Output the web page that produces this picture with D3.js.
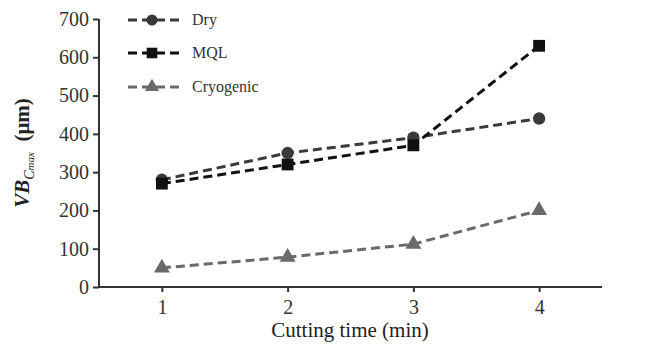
<!DOCTYPE html>
<html lang="en">
<head>
<meta charset="utf-8">
<script src="https://d3js.org/d3.v7.min.js"></script>
<style>
  body { margin: 0; background: #fff; }
</style>
</head>
<body>
<div id="chart"></div>
<script>
// data
const times = [1, 2, 3, 4];
const dry = [280, 350, 390, 440];
const mql = [270, 320, 370, 630];
const cryo = [50, 78, 112, 200];
const yTicks = [0, 100, 200, 300, 400, 500, 600, 700];
const seriesNames = ["Dry", "MQL", "Cryogenic"];

const serif = "Liberation Serif";
const W = 647, H = 349;
const svg = d3.select("#chart").append("svg")
  .attr("width", W).attr("height", H)
  .attr("font-family", serif);

const x = d3.scaleLinear().domain([0.5, 4.5]).range([99, 602]);
const y = d3.scaleLinear().domain([0, 700]).range([287, 19]);

// axes
const yAxis = svg.append("g")
  .attr("transform", "translate(99,0)")
  .call(d3.axisLeft(y).tickValues(yTicks).tickSize(6).tickPadding(4));
const xAxis = svg.append("g")
  .attr("transform", "translate(0,287)")
  .call(d3.axisBottom(x).tickValues(times).tickFormat(d3.format("d")).tickSize(5).tickPadding(8));

[yAxis, xAxis].forEach(a => {
  a.attr("font-family", serif).attr("font-size", 20);
  a.select(".domain").attr("stroke", "#333").attr("stroke-width", 2);
  a.selectAll(".tick line").attr("stroke", "#333").attr("stroke-width", 2);
  a.selectAll(".tick text").attr("fill", "#333");
});
// plain axis line without end caps
yAxis.select(".domain").attr("d", `M0,${y(700)}V${y(0)}`);
xAxis.select(".domain").attr("d", `M${x(0.5)},0H${x(4.5)}`);

// axis titles
svg.append("text")
  .attr("x", 350).attr("y", 337)
  .attr("text-anchor", "middle")
  .attr("fill", "#222")
  .attr("font-family", serif)
  .attr("font-size", 21)
  .text("Cutting time (min)");

const yl = svg.append("text")
  .attr("transform", "translate(29,153) rotate(-90)")
  .attr("text-anchor", "middle")
  .attr("fill", "#222")
  .attr("font-family", serif)
  .attr("font-size", 21)
  .attr("font-weight", "bold");
yl.append("tspan").attr("font-style", "italic").text("VB");
yl.append("tspan").attr("font-style", "italic").attr("font-size", 14)
  .attr("font-weight", "normal").attr("dy", 5).text("C");
yl.append("tspan").attr("font-style", "italic").attr("font-size", 11)
  .attr("font-weight", "normal").text("max");
yl.append("tspan").attr("dy", -5).text("\u00a0\u00a0(\u03bcm)");

// series
const series = [
  { name: seriesNames[0], values: dry, color: "#3a3a3a", shape: d3.symbolCircle, size: 120 },
  { name: seriesNames[1], values: mql, color: "#111", shape: d3.symbolSquare, size: 140 },
  { name: seriesNames[2], values: cryo, color: "#6a6a6a", shape: d3.symbolTriangle, size: 110 }
];

const line = d3.line().x((d, i) => x(times[i])).y(d => y(d));

series.forEach(s => {
  svg.append("path")
    .datum(s.values)
    .attr("d", line)
    .attr("fill", "none")
    .attr("stroke", s.color)
    .attr("stroke-width", 3)
    .attr("stroke-dasharray", "9,5");
  svg.selectAll(null)
    .data(s.values)
    .join("path")
      .attr("transform", (d, i) => `translate(${x(times[i])},${y(d)})`)
      .attr("d", d3.symbol().type(s.shape).size(s.size))
      .attr("fill", s.color);
});

// legend
const legRows = [20, 53, 87];
series.forEach((s, i) => {
  const g = svg.append("g").attr("transform", `translate(0,${legRows[i]})`);
  g.append("line")
    .attr("x1", 128).attr("x2", 183)
    .attr("stroke", s.color).attr("stroke-width", 3)
    .attr("stroke-dasharray", "9,5");
  g.append("path")
    .attr("transform", "translate(152,0)")
    .attr("d", d3.symbol().type(s.shape).size(s.size * 0.8))
    .attr("fill", s.color);
  g.append("text")
    .attr("x", 192).attr("y", 5)
    .attr("fill", "#333")
    .attr("font-family", serif)
    .attr("font-size", 16)
    .text(s.name);
});
</script>
</body>
</html>
